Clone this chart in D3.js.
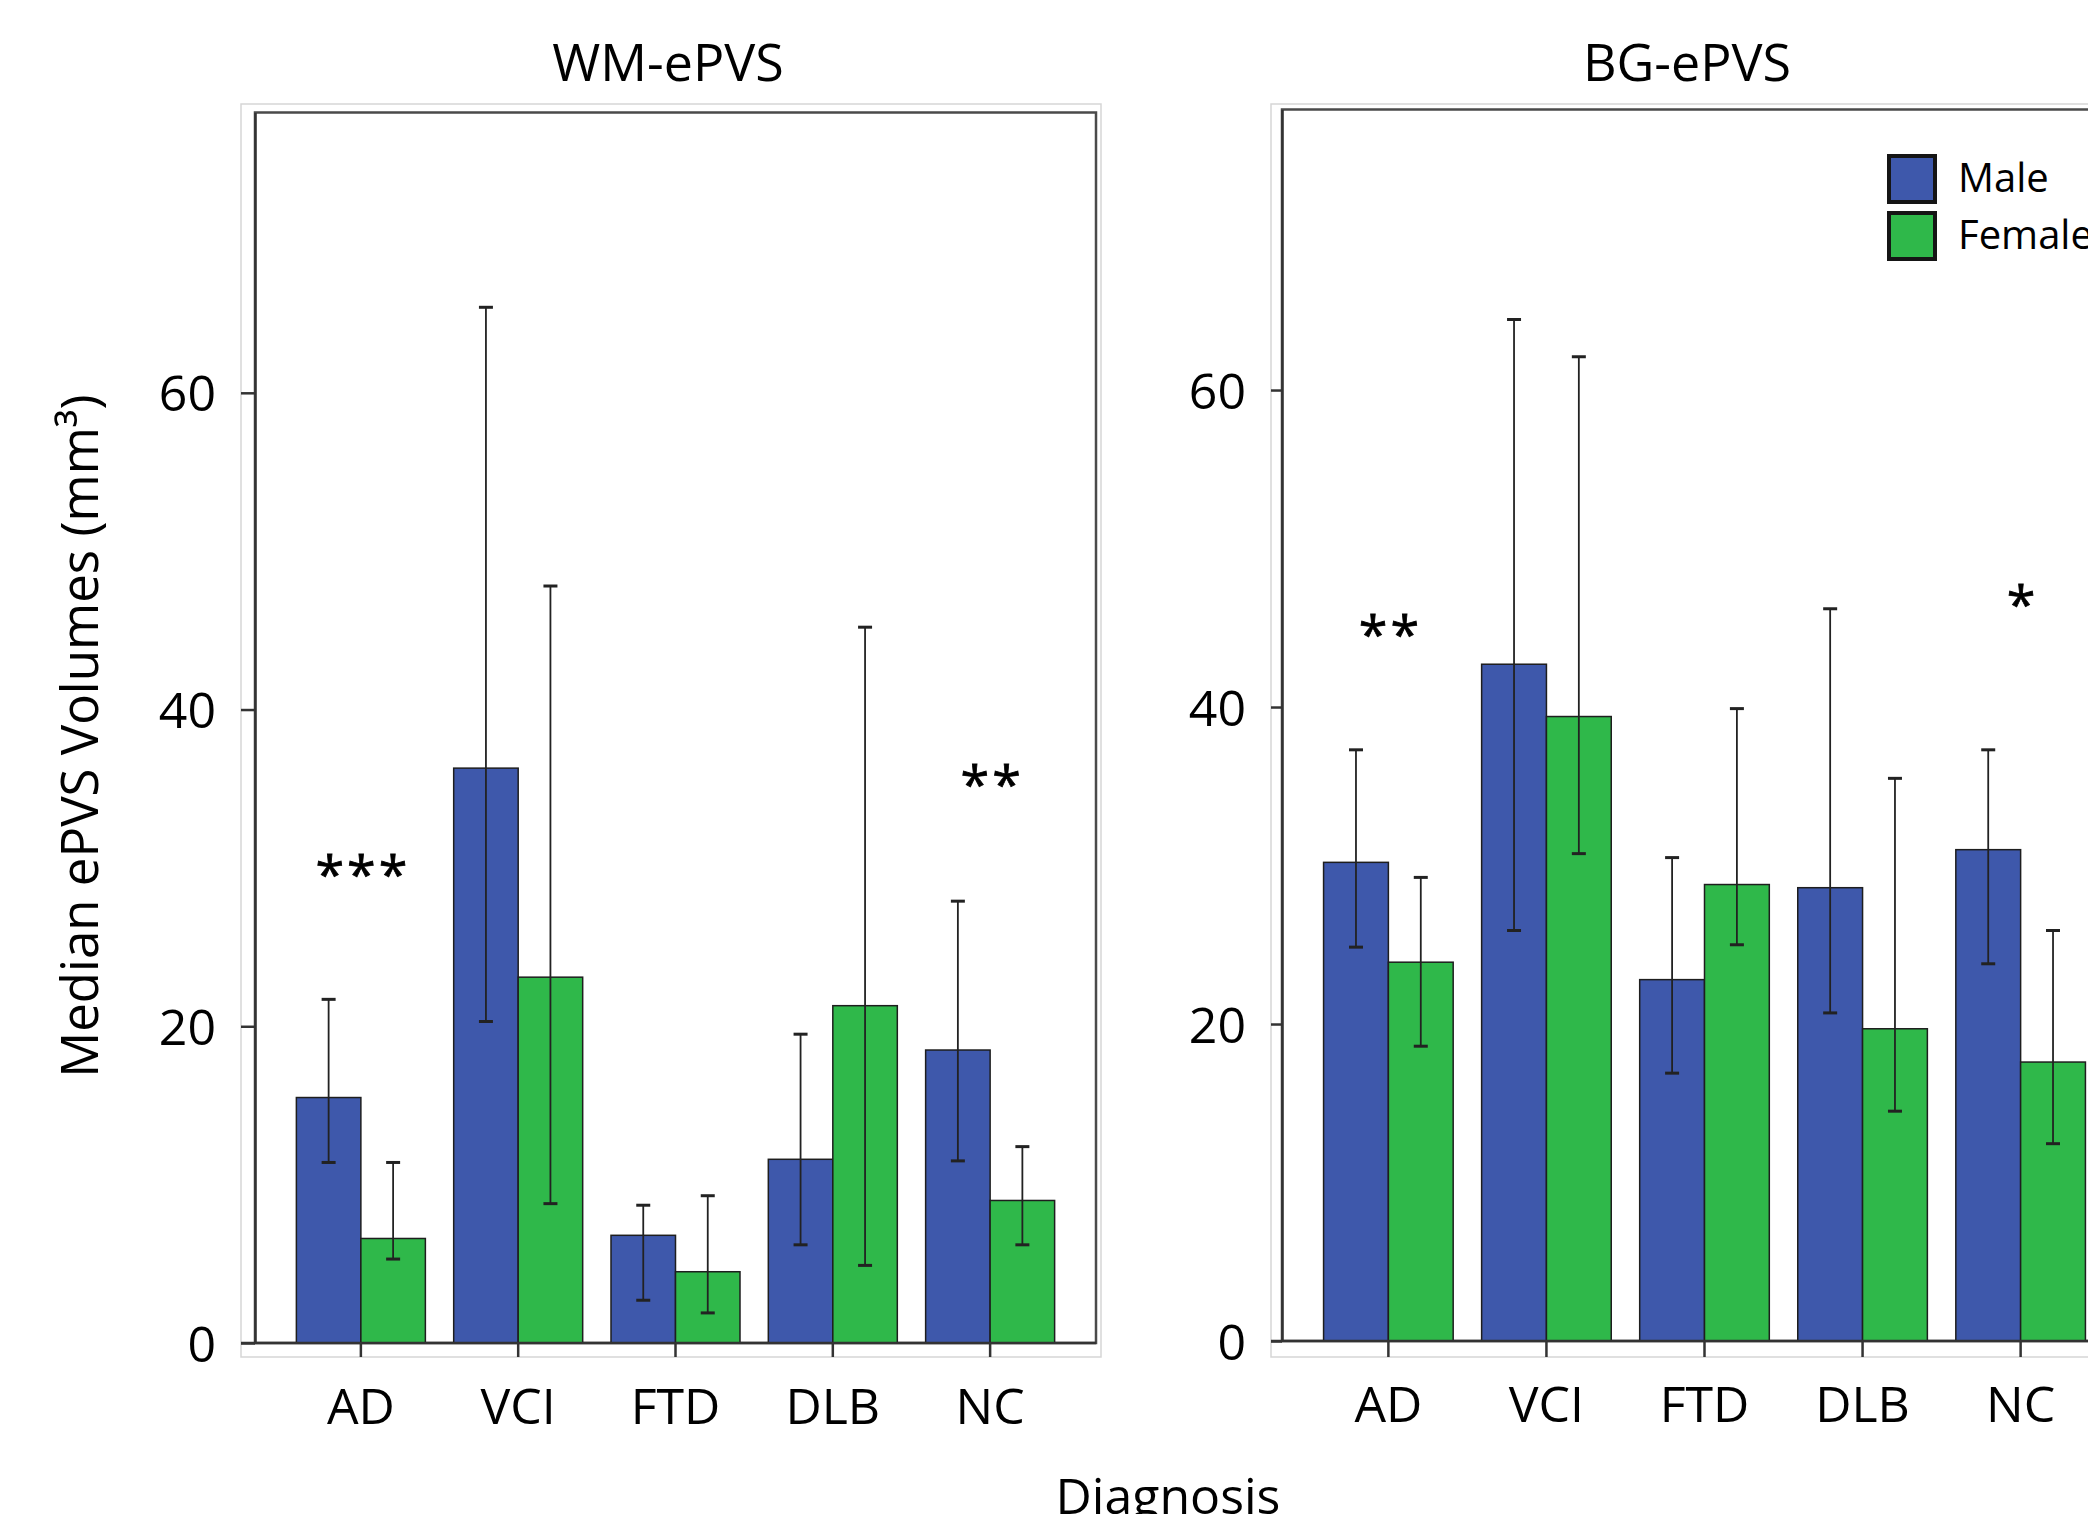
<!DOCTYPE html>
<html>
<head>
<meta charset="utf-8">
<script src="https://cdn.jsdelivr.net/npm/d3@7"></script>
<style>
  body { margin: 0; background: #fff; }
  svg text { font-family: "Open Sans", sans-serif; fill: #000; }
</style>
</head>
<body>
<script>
const categories = ["AD", "VCI", "FTD", "DLB", "NC"];
const groups = ["Male", "Female"];
const yTicks = [0, 20, 40, 60];

// WM-ePVS: medians and error bar ends
const wmMale     = [15.5, 36.3, 6.8, 11.6, 18.5];
const wmMaleLo   = [11.4, 20.3, 2.7, 6.2, 11.5];
const wmMaleHi   = [21.7, 65.4, 8.7, 19.5, 27.9];
const wmFemale   = [6.6, 23.1, 4.5, 21.3, 9.0];
const wmFemaleLo = [5.3, 8.8, 1.9, 4.9, 6.2];
const wmFemaleHi = [11.4, 47.8, 9.3, 45.2, 12.4];
const wmStars    = [["AD", "***", 30.3], ["NC", "**", 36.0]];

// BG-ePVS
const bgMale     = [30.2, 42.7, 22.8, 28.6, 31.0];
const bgMaleLo   = [24.85, 25.9, 16.9, 20.7, 23.8];
const bgMaleHi   = [37.3, 64.45, 30.5, 46.2, 37.3];
const bgFemale   = [23.9, 39.4, 28.8, 19.7, 17.6];
const bgFemaleLo = [18.6, 30.75, 25.0, 14.5, 12.45];
const bgFemaleHi = [29.25, 62.1, 39.9, 35.5, 25.9];
const bgStars    = [["AD", "**", 45.3], ["NC", "*", 47.2]];

const yMax = 77.7;

const W = 2088, H = 1514;
const colors = { Male: "#3e58ab", Female: "#2fb84a" };

const svg = d3.select("body")
    .append("svg")
    .attr("width", W)
    .attr("height", H);

svg.append("rect").attr("width", W).attr("height", H).attr("fill", "#fff");

function rows(male, maleLo, maleHi, female, femaleLo, femaleHi) {
    const out = [];
    categories.forEach((c, i) => {
        out.push({ cat: c, grp: "Male", v: male[i], lo: maleLo[i], hi: maleHi[i] });
        out.push({ cat: c, grp: "Female", v: female[i], lo: femaleLo[i], hi: femaleHi[i] });
    });
    return out;
}

const panels = [
    {
        title: "WM-ePVS", titleX: 668,
        data: rows(wmMale, wmMaleLo, wmMaleHi, wmFemale, wmFemaleLo, wmFemaleHi),
        stars: wmStars,
        left: 255, right: 1096, top: 112.5, base: 1343,
        frame: { x: 241, y: 104, x2: 1101, y2: 1357 },
        labelGap: 39
    },
    {
        title: "BG-ePVS", titleX: 1687,
        data: rows(bgMale, bgMaleLo, bgMaleHi, bgFemale, bgFemaleLo, bgFemaleHi),
        stars: bgStars,
        left: 1282, right: 2127, top: 109.5, base: 1341,
        frame: { x: 1271, y: 104, x2: 2132, y2: 1357 },
        labelGap: 36
    }
];

panels.forEach(drawPanel);

function drawPanel(p) {
    const g = svg.append("g");

    const x0 = d3.scaleBand()
        .domain(categories)
        .range([p.left, p.right])
        .paddingInner(0.18)
        .paddingOuter(0.263);
    const x1 = d3.scaleBand()
        .domain(groups)
        .range([0, x0.bandwidth()]);
    const y = d3.scaleLinear()
        .domain([0, yMax])
        .range([p.base, p.top]);

    // light outer frame
    g.append("rect")
        .attr("x", p.frame.x).attr("y", p.frame.y)
        .attr("width", p.frame.x2 - p.frame.x)
        .attr("height", p.frame.y2 - p.frame.y)
        .attr("fill", "none")
        .attr("stroke", "#d6d6d6")
        .attr("stroke-width", 1.5);

    // plot box
    g.append("rect")
        .attr("x", p.left).attr("y", p.top)
        .attr("width", p.right - p.left)
        .attr("height", p.base - p.top)
        .attr("fill", "none")
        .attr("stroke", "#4a4a4a")
        .attr("stroke-width", 2.5);

    // bars
    g.selectAll("rect.bar")
        .data(p.data)
        .join("rect")
        .attr("class", "bar")
        .attr("x", d => x0(d.cat) + x1(d.grp))
        .attr("y", d => y(d.v))
        .attr("width", x1.bandwidth())
        .attr("height", d => y(0) - y(d.v))
        .attr("fill", d => colors[d.grp])
        .attr("stroke", "#1e1e1e")
        .attr("stroke-width", 1.5);

    // error bars
    const cx = d => x0(d.cat) + x1(d.grp) + x1.bandwidth() / 2;
    const err = g.selectAll("g.err")
        .data(p.data)
        .join("g")
        .attr("class", "err")
        .attr("stroke", "#222");
    err.append("line")
        .attr("x1", cx).attr("x2", cx)
        .attr("y1", d => y(d.lo)).attr("y2", d => y(d.hi))
        .attr("stroke-width", 1.8);
    ["lo", "hi"].forEach(k => {
        err.append("line")
            .attr("x1", d => cx(d) - 7).attr("x2", d => cx(d) + 7)
            .attr("y1", d => y(d[k])).attr("y2", d => y(d[k]))
            .attr("stroke-width", 3);
    });

    // y axis
    const yAxis = d3.axisLeft(y)
        .tickValues(yTicks)
        .tickSize(p.left - p.frame.x)
        .tickSizeOuter(0);
    const gy = g.append("g")
        .attr("transform", `translate(${p.left},0)`)
        .call(yAxis)
        .attr("font-size", 50)
        .attr("font-family", null)
        .attr("color", "#333");
    gy.selectAll("path.domain").attr("stroke-width", 2.5);
    gy.selectAll(".tick line").attr("stroke-width", 2.5);
    gy.selectAll(".tick text")
        .attr("x", -p.labelGap)
        .attr("dy", "0.36em");

    // x axis
    const xAxis = d3.axisBottom(x0)
        .tickSize(p.frame.y2 - p.base)
        .tickSizeOuter(0);
    const gx = g.append("g")
        .attr("transform", `translate(0,${p.base})`)
        .call(xAxis)
        .attr("font-size", 50)
        .attr("font-family", null)
        .attr("color", "#333");
    gx.select("path.domain").remove();
    gx.selectAll(".tick line").attr("stroke-width", 2.5);
    gx.selectAll(".tick text")
        .attr("y", 81)
        .attr("dy", 0);
    g.append("line")
        .attr("x1", p.frame.x).attr("x2", p.right)
        .attr("y1", p.base).attr("y2", p.base)
        .attr("stroke", "#333")
        .attr("stroke-width", 2.5);

    // significance stars
    g.selectAll("text.star")
        .data(p.stars)
        .join("text")
        .attr("class", "star")
        .attr("x", d => x0(d[0]) + x0.bandwidth() / 2 + 2)
        .attr("y", d => y(d[2]))
        .attr("dy", "0.58em")
        .attr("text-anchor", "middle")
        .attr("font-size", 52)
        .attr("letter-spacing", 3)
        .attr("stroke", "#000")
        .attr("stroke-width", 0.8)
        .text(d => d[1]);

    // panel title
    g.append("text")
        .attr("x", p.titleX)
        .attr("y", 81)
        .attr("text-anchor", "middle")
        .attr("font-size", 52)
        .text(p.title);
}

// axis titles
svg.append("text")
    .attr("transform", "translate(98,736) rotate(-90)")
    .attr("text-anchor", "middle")
    .attr("font-size", 51)
    .text("Median ePVS Volumes (mm³)");

svg.append("text")
    .attr("x", 1168)
    .attr("y", 1514)
    .attr("text-anchor", "middle")
    .attr("font-size", 50)
    .text("Diagnosis");

// legend
const legend = svg.append("g").attr("transform", "translate(1889,156)");
const li = legend.selectAll("g")
    .data(groups)
    .join("g")
    .attr("transform", (d, i) => `translate(0,${i * 57})`);
li.append("rect")
    .attr("width", 46).attr("height", 46)
    .attr("fill", d => colors[d])
    .attr("stroke", "#151515")
    .attr("stroke-width", 4);
li.append("text")
    .attr("x", 69)
    .attr("y", 36)
    .attr("font-size", 40)
    .text(d => d);
</script>
</body>
</html>
